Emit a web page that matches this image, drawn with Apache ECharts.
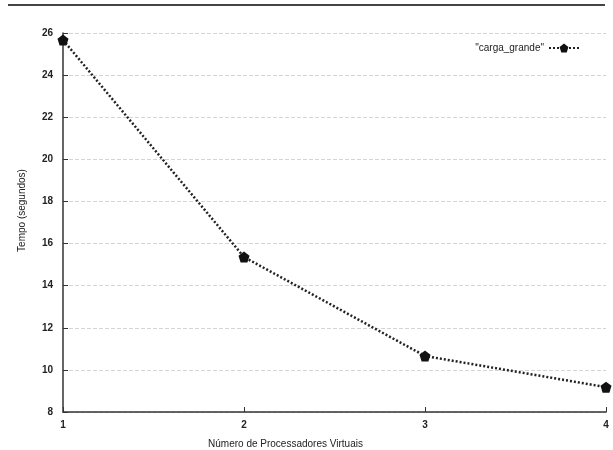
<!DOCTYPE html>
<html><head><meta charset="utf-8">
<script src="https://cdn.jsdelivr.net/npm/echarts@6/dist/echarts.min.js"></script>
<style>html,body{margin:0;padding:0;background:#fff}#c{width:613px;height:450px}</style>
</head><body><div id="c"></div>
<script>
const categories = [1, 2, 3, 4];
const tempo = [25.67, 15.36, 10.66, 9.18];
const seriesName = '"carga_grande"';
const yTicks = [8, 10, 12, 14, 16, 18, 20, 22, 24, 26];

const pent = 'path://M0,-10 L9.51,-3.09 L5.88,8.09 L-5.88,8.09 L-9.51,-3.09 Z';
const chart = echarts.init(document.getElementById('c'));
const font = 'Liberation Sans';
chart.setOption({
  animation: false,
  graphic: [{type: 'rect', shape: {x: 8, y: 4, width: 597, height: 2}, style: {fill: '#444'}}],
  grid: {left: 63, right: 7, top: 33, bottom: 38, containLabel: false, outerBoundsMode: 'none'},
  legend: {
    right: 28, top: 38, align: 'right', itemWidth: 30, itemHeight: 11,
    textStyle: {fontFamily: font, fontSize: 10, color: '#222'},
    data: [{name: seriesName}]
  },
  xAxis: {
    type: 'value', min: 1, max: 4, interval: 1,
    name: 'Número de Processadores Virtuais', nameLocation: 'middle', nameGap: 27,
    nameTextStyle: {fontFamily: font, fontSize: 10, color: '#222', padding: [0, 98, 0, 0]},
    axisLine: {lineStyle: {color: '#333', width: 1.5}},
    axisTick: {inside: true, length: 5, lineStyle: {color: '#333'}},
    axisLabel: {fontFamily: font, fontSize: 10, color: '#222', margin: 8, fontWeight: 'bold'},
    splitLine: {show: false}
  },
  yAxis: {
    type: 'value', min: 8, max: 26, interval: 2,
    name: 'Tempo (segundos)', nameLocation: 'middle', nameGap: 36, nameRotate: 90,
    nameTextStyle: {fontFamily: font, fontSize: 10, color: '#222', padding: [0, 0, 0, 24]},
    axisLine: {show: true, lineStyle: {color: '#333', width: 1.5}},
    axisTick: {inside: true, length: 5, lineStyle: {color: '#333'}},
    axisLabel: {fontFamily: font, fontSize: 10, color: '#222', margin: 10, fontWeight: 'bold'},
    splitLine: {show: true, lineStyle: {color: '#d4d4d4', type: 'dashed', width: 1}}
  },
  series: [{
    name: seriesName, type: 'line',
    data: categories.map((x, i) => [x, tempo[i]]),
    symbol: pent, symbolSize: 11,
    itemStyle: {color: '#111'},
    lineStyle: {color: '#222', width: 2.5, type: [2, 2]}
  }]
});
</script></body></html>
